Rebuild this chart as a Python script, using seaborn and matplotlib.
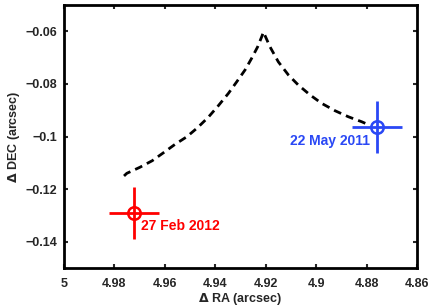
import numpy as np
import pandas as pd
import matplotlib
matplotlib.use("Agg")
import matplotlib.pyplot as plt
import seaborn as sns

# --- DADOS ---
# curva tracejada (trajetória prevista)
curve_ra = [4.9762, 4.9751, 4.9699, 4.9650, 4.9606, 4.9560, 4.9513, 4.9471, 4.9428, 4.9388,
            4.9348, 4.9315, 4.9282, 4.9256, 4.9232, 4.9216, 4.9209,
            4.9183, 4.9150, 4.9110, 4.9071, 4.9024, 4.8978, 4.8925, 4.8872, 4.8819, 4.8800]
curve_dec = [-0.1150, -0.1140, -0.1117, -0.1092, -0.1062, -0.1030, -0.1001, -0.0967, -0.0927, -0.0883,
             -0.0836, -0.0792, -0.0747, -0.0703, -0.0659, -0.0621, -0.0603,
             -0.0659, -0.0716, -0.0766, -0.0804, -0.0842, -0.0874, -0.0902, -0.0925, -0.0944, -0.0952]

# observações
obs_ra = [4.9722, 4.8759]
obs_dec = [-0.1291, -0.0964]
obs_ra_err = [0.010, 0.010]
obs_dec_err = [0.010, 0.0099]
obs_labels = ['27 Feb 2012', '22 May 2011']
obs_colors = ['#ff0000', '#2a48f5']

x_ticks = [5, 4.98, 4.96, 4.94, 4.92, 4.9, 4.88, 4.86]
y_ticks = [-0.14, -0.12, -0.1, -0.08, -0.06]

# --- ESTILO ---
sns.set_style('white')
plt.rcParams['font.family'] = ['Liberation Sans', 'DejaVu Sans']
plt.rcParams['font.weight'] = 'bold'
plt.rcParams['axes.labelweight'] = 'bold'

fig = plt.figure(figsize=(4.36, 3.07), dpi=100)
ax = fig.add_axes([0.1468, 0.127, 0.8096, 0.8567])

df_curve = pd.DataFrame({'ra': curve_ra, 'dec': curve_dec})
sns.lineplot(data=df_curve, x='ra', y='dec', sort=False, ax=ax,
             color='black', linewidth=2, linestyle=(0, (2.8, 1.9)))

for ra, dec, xe, ye, col in zip(obs_ra, obs_dec, obs_ra_err, obs_dec_err, obs_colors):
    ax.errorbar(ra, dec, xerr=xe, yerr=ye, fmt='o', color=col, mfc='none',
                mec=col, mew=1.8, ms=9, elinewidth=2, capsize=0)

# rótulos das datas
ax.text(obs_ra[0] - 0.0027, obs_dec[0] - 0.0023, obs_labels[0], color=obs_colors[0],
        fontsize=10, fontweight='bold', ha='left', va='top')
ax.text(obs_ra[1] + 0.0027, obs_dec[1] - 0.0027, obs_labels[1], color=obs_colors[1],
        fontsize=10, fontweight='bold', ha='right', va='top')

ax.set_xlim(5, 4.86)
ax.set_ylim(-0.15, -0.05)
ax.set_xticks(x_ticks)
ax.set_xticklabels(['%g' % v for v in x_ticks])
ax.set_yticks(y_ticks)
ax.set_yticklabels(['\u2212%g' % abs(v) for v in y_ticks])

ax.tick_params(direction='in', length=3, width=1.5, labelsize=9,
               top=True, right=True, bottom=True, left=True)
ax.tick_params(axis='x', pad=7)
ax.tick_params(axis='y', pad=5)
for lab in ax.get_xticklabels() + ax.get_yticklabels():
    lab.set_fontweight('bold')
for sp in ax.spines.values():
    sp.set_linewidth(2)
    sp.set_color('black')

ax.set_xlabel(r'$\Delta$ RA (arcsec)', fontsize=9, labelpad=1)
ax.set_ylabel(r'$\Delta$ DEC (arcsec)', fontsize=9, labelpad=2)

fig.savefig('out.png', dpi=100)
